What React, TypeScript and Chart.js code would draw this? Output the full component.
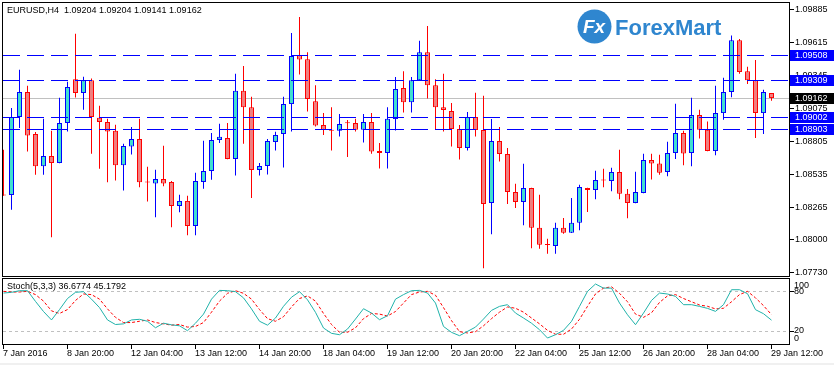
import React, { useEffect, useRef } from 'react';
import { Chart, registerables } from 'chart.js';

Chart.register(...registerables);

const SYMBOL = 'EURUSD,H4';

const OPEN = [
  1.08369, 1.08369, 1.09007, 1.09211, 1.08868, 1.08603, 1.08688, 1.08630, 1.08958, 1.09317,
  1.09203, 1.09309, 1.09001, 1.08966, 1.08895, 1.08611, 1.08766, 1.08827, 1.08473, 1.08463,
  1.08499, 1.08475, 1.08279, 1.08320, 1.08115, 1.08475, 1.08565, 1.08818, 1.08835, 1.08663,
  1.09222, 1.09088, 1.08573, 1.08606, 1.08802, 1.08868, 1.09113, 1.09514, 1.09481, 1.09137,
  1.08941, 1.08896, 1.08895, 1.08959, 1.08958, 1.08903, 1.08966, 1.08728, 1.08712, 1.08990,
  1.09244, 1.09129, 1.09309, 1.09538, 1.09268, 1.09088, 1.09056, 1.08908, 1.08753, 1.09007,
  1.08900, 1.08303, 1.08810, 1.08704, 1.08393, 1.08311, 1.08426, 1.08099, 1.07961, 1.07951,
  1.08099, 1.08058, 1.08140, 1.08426, 1.08409, 1.08489, 1.08483, 1.08557, 1.08379, 1.08303,
  1.08385, 1.08655, 1.08627, 1.08557, 1.08712, 1.08876, 1.08712, 1.09023, 1.08903, 1.08728,
  1.09039, 1.09211, 1.09636, 1.09383, 1.09309, 1.09039, 1.09204,
];
const HIGH = [
  1.08739, 1.09080, 1.09394, 1.09263, 1.08884, 1.08993, 1.08895, 1.09164, 1.09295, 1.09690,
  1.09336, 1.09322, 1.09099, 1.08993, 1.08944, 1.08788, 1.08925, 1.08993, 1.08600, 1.08576,
  1.08772, 1.08483, 1.08371, 1.08363, 1.08551, 1.08813, 1.08876, 1.08952, 1.08958, 1.09361,
  1.09426, 1.09173, 1.08630, 1.08827, 1.08886, 1.09173, 1.09696, 1.09827, 1.09538, 1.09268,
  1.09039, 1.09088, 1.09031, 1.08982, 1.08993, 1.09031, 1.09039, 1.08794, 1.09088, 1.09334,
  1.09383, 1.09334, 1.09631, 1.09753, 1.09317, 1.09361, 1.09121, 1.08941, 1.09048, 1.09205,
  1.09181, 1.08990, 1.08925, 1.08753, 1.08461, 1.08625, 1.08428, 1.08371, 1.08009, 1.08140,
  1.08180, 1.08344, 1.08453, 1.08428, 1.08567, 1.08584, 1.08592, 1.08739, 1.08418, 1.08559,
  1.08706, 1.08706, 1.08698, 1.08805, 1.09115, 1.08895, 1.09164, 1.09066, 1.08971, 1.09263,
  1.09328, 1.09674, 1.09647, 1.09418, 1.09475, 1.09230, 1.09204,
];
const LOW = [
  1.08363, 1.08248, 1.08917, 1.08725, 1.08535, 1.08535, 1.08022, 1.08628, 1.08889, 1.09167,
  1.09066, 1.08706, 1.08584, 1.08472, 1.08488, 1.08406, 1.08701, 1.08431, 1.08314, 1.08185,
  1.08439, 1.08104, 1.08226, 1.08038, 1.08038, 1.08420, 1.08494, 1.08794, 1.08661, 1.08529,
  1.08788, 1.08344, 1.08529, 1.08537, 1.08733, 1.08594, 1.08889, 1.09355, 1.09052, 1.08930,
  1.08859, 1.08733, 1.08848, 1.08679, 1.08889, 1.08799, 1.08706, 1.08586, 1.08586, 1.08897,
  1.09044, 1.09044, 1.09307, 1.09159, 1.08908, 1.08889, 1.08766, 1.08660, 1.08733, 1.08848,
  1.07768, 1.08046, 1.08643, 1.08295, 1.08262, 1.08120, 1.07932, 1.07927, 1.07886, 1.07886,
  1.08050, 1.08056, 1.08079, 1.08230, 1.08333, 1.08431, 1.08398, 1.08333, 1.08177, 1.08301,
  1.08383, 1.08496, 1.08535, 1.08521, 1.08663, 1.08611, 1.08603, 1.08832, 1.08726, 1.08693,
  1.08985, 1.09170, 1.09361, 1.09277, 1.08835, 1.08868, 1.09141,
];
const CLOSE = [
  1.08365, 1.09007, 1.09211, 1.08856, 1.08603, 1.08688, 1.08630, 1.08958, 1.09252, 1.09203,
  1.09309, 1.09007, 1.08966, 1.08889, 1.08611, 1.08769, 1.08827, 1.08472, 1.08471, 1.08499,
  1.08463, 1.08279, 1.08320, 1.08115, 1.08483, 1.08565, 1.08818, 1.08845, 1.08663, 1.09222,
  1.09088, 1.08573, 1.08606, 1.08810, 1.08859, 1.09113, 1.09506, 1.09478, 1.09154, 1.08938,
  1.08903, 1.08894, 1.08949, 1.08957, 1.08903, 1.08966, 1.08725, 1.08712, 1.08993, 1.09236,
  1.09129, 1.09309, 1.09538, 1.09268, 1.09088, 1.09064, 1.08908, 1.08753, 1.09007, 1.08900,
  1.08295, 1.08810, 1.08704, 1.08393, 1.08311, 1.08426, 1.08099, 1.07960, 1.07959, 1.08099,
  1.08058, 1.08140, 1.08434, 1.08409, 1.08491, 1.08487, 1.08557, 1.08379, 1.08303, 1.08393,
  1.08655, 1.08627, 1.08551, 1.08712, 1.08876, 1.08709, 1.09023, 1.08903, 1.08728, 1.09039,
  1.09211, 1.09636, 1.09375, 1.09309, 1.09039, 1.09211, 1.09162,
];

const STOCH_K = [
  78.4, 79.5, 82, 82, 65.5, 50, 37, 53, 70, 79.5,
  80.5, 69, 56, 37, 30, 31, 37, 38, 35, 25,
  32, 29.5, 28, 20.5, 32, 46, 69, 82.5, 82, 80.5,
  71, 54, 35, 29, 40, 58, 72, 80.5, 68, 48.7,
  24.6, 16.4, 14.3, 23, 38.4, 54.3, 47.6, 37.4, 43.5, 69,
  76, 82, 82.5, 78.4, 63, 27, 17.9, 12.8, 19.4, 26,
  38.4, 51.7, 57.9, 60.5, 47.6, 40, 32, 22, 9.2, 14.3,
  21, 34.8, 57.9, 81, 92.3, 86, 86, 63, 45, 29.7,
  47.6, 67, 78.4, 76.9, 73.3, 60.5, 60.5, 57.9, 54.8, 50.2,
  60.5, 83.5, 83.5, 77.4, 52.8, 46.6, 36.6774,
];
const STOCH_D = [
  81, 80, 80, 81, 76, 66, 51, 47, 53, 67,
  77, 76, 69, 54, 41, 33, 33, 35, 37, 33,
  31, 29, 30, 26, 27, 33, 49, 66, 78, 82,
  78, 69, 53, 39, 35, 42, 57, 70, 74, 66,
  47, 30, 18, 18, 25, 39, 47, 46, 43, 50,
  63, 76, 80, 81, 75, 56, 36, 19, 17, 19,
  28, 39, 49, 57, 55, 49, 40, 31, 21, 15,
  15, 23, 38, 58, 77, 86, 88, 78, 65, 46,
  41, 48, 64, 74, 76, 70, 65, 60, 58, 54,
  55, 65, 76, 81, 71, 59, 45.1792,
];

const PRICE_TICKS = [1.09885, 1.09615, 1.09345, 1.09075, 1.08805, 1.08535, 1.08265, 1.08, 1.0773];
const LEVEL_LINES = [1.09508, 1.09309, 1.09002, 1.08903];
const BID = 1.09162;
const TIME_LABEL_BARS = [0, 8, 16, 24, 32, 40, 48, 56, 64, 72, 80, 88, 96];
const TIME_LABELS = [
  '7 Jan 2016', '8 Jan 20:00', '12 Jan 04:00', '13 Jan 12:00', '14 Jan 20:00', '18 Jan 04:00',
  '19 Jan 12:00', '20 Jan 20:00', '22 Jan 04:00', '25 Jan 12:00', '26 Jan 20:00', '28 Jan 04:00',
  '29 Jan 12:00',
];
const STOCH_LEVELS = [80, 20];
const STOCH_AXIS = [100, 80, 20, 0];
const STOCH_NAME = 'Stoch(5,3,3)';
const LOGO_TEXT = 'ForexMart';

const FONT = "'Liberation Sans', Arial, sans-serif";
const X_MIN = -0.0625;
const X_MAX = 98.1875;
const Y_MIN = 1.077047;
const Y_MAX = 1.099411;

const BLUE = '#0000FF';
const RED = '#FF0000';

function rowOf(px: number) {
  return Math.floor(px) + 0.5;
}

const mainPlugin = {
  id: 'mt4Main',
  beforeDatasetsDraw(chart: any) {
    const { ctx, chartArea: a, scales } = chart;
    const y = scales.y;
    ctx.save();
    // logo watermark
    ctx.fillStyle = '#2F86CF';
    ctx.beginPath();
    ctx.arc(594.5, 26.5, 17, 0, Math.PI * 2);
    ctx.fill();
    ctx.fillStyle = '#FFFFFF';
    ctx.font = `bold italic 19px ${FONT}`;
    ctx.textAlign = 'center';
    ctx.textBaseline = 'middle';
    ctx.fillText('Fx', 594, 27.5);
    ctx.fillStyle = '#2F86CF';
    ctx.font = `bold 22px ${FONT}`;
    ctx.textAlign = 'left';
    ctx.textBaseline = 'alphabetic';
    ctx.fillText(LOGO_TEXT, 615, 35);
    // bid line
    const by = rowOf(y.getPixelForValue(BID));
    ctx.strokeStyle = '#C0C0C0';
    ctx.lineWidth = 1;
    ctx.beginPath();
    ctx.moveTo(a.left, by);
    ctx.lineTo(a.right, by);
    ctx.stroke();
    ctx.restore();
  },
  afterDatasetsDraw(chart: any) {
    const { ctx, chartArea: a, scales } = chart;
    const y = scales.y;
    ctx.save();
    ctx.strokeStyle = BLUE;
    ctx.lineWidth = 1;
    ctx.setLineDash([17, 7]);
    LEVEL_LINES.forEach((v) => {
      const yy = rowOf(y.getPixelForValue(v));
      ctx.beginPath();
      ctx.moveTo(a.left, yy);
      ctx.lineTo(a.right, yy);
      ctx.stroke();
    });
    ctx.restore();
  },
  afterDraw(chart: any) {
    const { ctx, chartArea: a, scales } = chart;
    const y = scales.y;
    ctx.save();
    ctx.strokeStyle = '#000';
    ctx.lineWidth = 1;
    ctx.beginPath();
    ctx.moveTo(2, 2.5);
    ctx.lineTo(790, 2.5);
    ctx.moveTo(2.5, 2);
    ctx.lineTo(2.5, 277);
    ctx.moveTo(2, a.bottom + 0.5);
    ctx.lineTo(790, a.bottom + 0.5);
    ctx.moveTo(a.right + 0.5, 2);
    ctx.lineTo(a.right + 0.5, 277);
    PRICE_TICKS.forEach((v) => {
      const yy = rowOf(y.getPixelForValue(v));
      ctx.moveTo(790, yy);
      ctx.lineTo(794, yy);
    });
    ctx.stroke();

    // title
    ctx.fillStyle = '#000';
    ctx.font = `9px ${FONT}`;
    ctx.textAlign = 'left';
    ctx.textBaseline = 'middle';
    const n = OPEN.length - 1;
    const title = `${SYMBOL}  ${OPEN[n].toFixed(5)} ${HIGH[n].toFixed(5)} ${LOW[n].toFixed(5)} ${CLOSE[n].toFixed(5)}`;
    ctx.fillText(title, 7, 11);

    // highlighted price labels
    const boxes = LEVEL_LINES.map((v) => ({ v, bg: BLUE })).concat([{ v: BID, bg: '#000000' }]);
    boxes.forEach(({ v, bg }) => {
      const r = Math.floor(y.getPixelForValue(v));
      ctx.fillStyle = bg;
      ctx.fillRect(790, r - 5, 44, 11);
      ctx.fillStyle = '#FFFFFF';
      ctx.fillText(v.toFixed(5), 795, r + 0.5);
    });
    ctx.restore();
  },
};

const stochPlugin = {
  id: 'mt4Stoch',
  beforeDatasetsDraw(chart: any) {
    const { ctx, chartArea: a, scales } = chart;
    const y = scales.y;
    ctx.save();
    ctx.strokeStyle = '#C0C0C0';
    ctx.lineWidth = 1;
    ctx.setLineDash([3, 3]);
    STOCH_LEVELS.forEach((v) => {
      const yy = rowOf(y.getPixelForValue(v));
      ctx.beginPath();
      ctx.moveTo(a.left, yy);
      ctx.lineTo(a.right, yy);
      ctx.stroke();
    });
    ctx.restore();
  },
  afterDraw(chart: any) {
    const { ctx, chartArea: a, scales } = chart;
    const y = scales.y;
    const x = scales.x;
    ctx.save();
    ctx.strokeStyle = '#000';
    ctx.lineWidth = 1;
    ctx.beginPath();
    ctx.moveTo(2, 1.5);
    ctx.lineTo(790, 1.5);
    ctx.moveTo(2, a.bottom + 0.5);
    ctx.lineTo(790, a.bottom + 0.5);
    ctx.moveTo(2.5, 1);
    ctx.lineTo(2.5, a.bottom + 1);
    ctx.moveTo(a.right + 0.5, 1);
    ctx.lineTo(a.right + 0.5, a.bottom + 1);
    STOCH_LEVELS.forEach((v) => {
      const yy = rowOf(y.getPixelForValue(v));
      ctx.moveTo(790, yy);
      ctx.lineTo(794, yy);
    });
    TIME_LABEL_BARS.forEach((b) => {
      const xx = rowOf(x.getPixelForValue(b));
      ctx.moveTo(xx, a.bottom + 1);
      ctx.lineTo(xx, a.bottom + 5);
    });
    ctx.stroke();

    ctx.fillStyle = '#000';
    ctx.font = `9px ${FONT}`;
    ctx.textAlign = 'left';
    ctx.textBaseline = 'middle';
    const n = STOCH_K.length - 1;
    ctx.fillText(`${STOCH_NAME} ${STOCH_K[n].toFixed(4)} ${STOCH_D[n].toFixed(4)}`, 7, 9.7);

    STOCH_AXIS.forEach((v) => {
      let yy = y.getPixelForValue(v);
      if (v === 100) yy += 6.3;
      else if (v === 0) yy -= 5.5;
      else yy -= 0.4;
      ctx.fillText(String(v), 794, yy);
    });

    TIME_LABEL_BARS.forEach((b, i) => {
      const xx = Math.floor(x.getPixelForValue(b));
      ctx.fillText(TIME_LABELS[i], xx, a.bottom + 9.7);
    });

    ctx.fillStyle = '#F0F0F0';
    ctx.fillRect(0, chart.height - 2, chart.width, 2);
    ctx.restore();
  },
};

export default function App() {
  const mainRef = useRef<HTMLCanvasElement | null>(null);
  const stochRef = useRef<HTMLCanvasElement | null>(null);

  useEffect(() => {
    const idx = OPEN.map((_, i) => i);
    const bull = idx.map((i) => CLOSE[i] > OPEN[i]);
    const bodyData = idx.map((i) => ({ x: i, y: [Math.min(OPEN[i], CLOSE[i]), Math.max(OPEN[i], CLOSE[i])] }));
    const wickData = idx.map((i) => ({ x: i, y: [LOW[i], HIGH[i]] }));
    const clip = { left: 0, top: false, right: false, bottom: false };

    const main = new Chart(mainRef.current as HTMLCanvasElement, {
      type: 'bar',
      data: {
        datasets: [
          {
            data: wickData as any,
            backgroundColor: idx.map((i) => (bull[i] ? BLUE : RED)),
            borderWidth: 0,
            maxBarThickness: 1,
            grouped: false,
            order: 2,
            inflateAmount: 0,
            clip: clip as any,
          },
          {
            data: bodyData as any,
            backgroundColor: idx.map((i) => (bull[i] ? '#40E0D0' : '#F08080')),
            borderColor: idx.map((i) => (bull[i] ? BLUE : RED)),
            borderWidth: 1,
            borderSkipped: false,
            maxBarThickness: 5,
            minBarLength: 1,
            grouped: false,
            order: 1,
            inflateAmount: 0,
            clip: clip as any,
          },
        ],
      },
      options: {
        responsive: false,
        animation: false,
        devicePixelRatio: 1,
        events: [],
        layout: { padding: { left: 3, right: 0, top: 3, bottom: 1 } },
        plugins: { legend: { display: false }, tooltip: { enabled: false } },
        scales: {
          x: { type: 'linear', min: X_MIN, max: X_MAX, display: false, offset: false, grid: { offset: false } },
          y: {
            type: 'linear',
            position: 'right',
            min: Y_MIN,
            max: Y_MAX,
            beginAtZero: false,
            grid: { display: false, drawTicks: false },
            border: { display: false },
            afterBuildTicks: (s: any) => {
              s.ticks = PRICE_TICKS.map((value) => ({ value }));
            },
            afterFit: (s: any) => {
              s.width = 45;
              s.paddingTop = 0;
              s.paddingBottom = 0;
            },
            ticks: {
              autoSkip: false,
              padding: 6,
              color: '#000',
              font: { family: FONT, size: 9 },
              callback: (v: any) => Number(v).toFixed(5),
            },
          },
        },
      } as any,
      plugins: [mainPlugin],
    });

    const stoch = new Chart(stochRef.current as HTMLCanvasElement, {
      type: 'line',
      data: {
        datasets: [
          {
            data: idx.map((i) => ({ x: i, y: STOCH_D[i] })),
            borderColor: RED,
            borderWidth: 1,
            borderDash: [3, 2],
            pointRadius: 0,
            tension: 0,
            order: 2,
          },
          {
            data: idx.map((i) => ({ x: i, y: STOCH_K[i] })),
            borderColor: '#20B2AA',
            borderWidth: 1,
            pointRadius: 0,
            tension: 0,
            order: 1,
          },
        ],
      },
      options: {
        responsive: false,
        animation: false,
        devicePixelRatio: 1,
        events: [],
        layout: { padding: { left: 3, right: 0, top: 2, bottom: 21 } },
        plugins: { legend: { display: false }, tooltip: { enabled: false } },
        scales: {
          x: { type: 'linear', min: X_MIN, max: X_MAX, display: false, offset: false },
          y: {
            type: 'linear',
            position: 'right',
            min: 0,
            max: 100,
            grid: { display: false, drawTicks: false },
            border: { display: false },
            ticks: { display: false },
            afterFit: (s: any) => {
              s.width = 45;
              s.paddingTop = 0;
              s.paddingBottom = 0;
            },
          },
        },
      } as any,
      plugins: [stochPlugin],
    });

    return () => {
      main.destroy();
      stoch.destroy();
    };
  }, []);

  return (
    <div style={{ position: 'absolute', left: 0, top: 0, width: 834, height: 365, background: '#FFFFFF', overflow: 'hidden' }}>
      <canvas ref={mainRef} width={834} height={277} style={{ position: 'absolute', left: 0, top: 0, display: 'block' }} />
      <canvas ref={stochRef} width={834} height={88} style={{ position: 'absolute', left: 0, top: 277, display: 'block' }} />
    </div>
  );
}
